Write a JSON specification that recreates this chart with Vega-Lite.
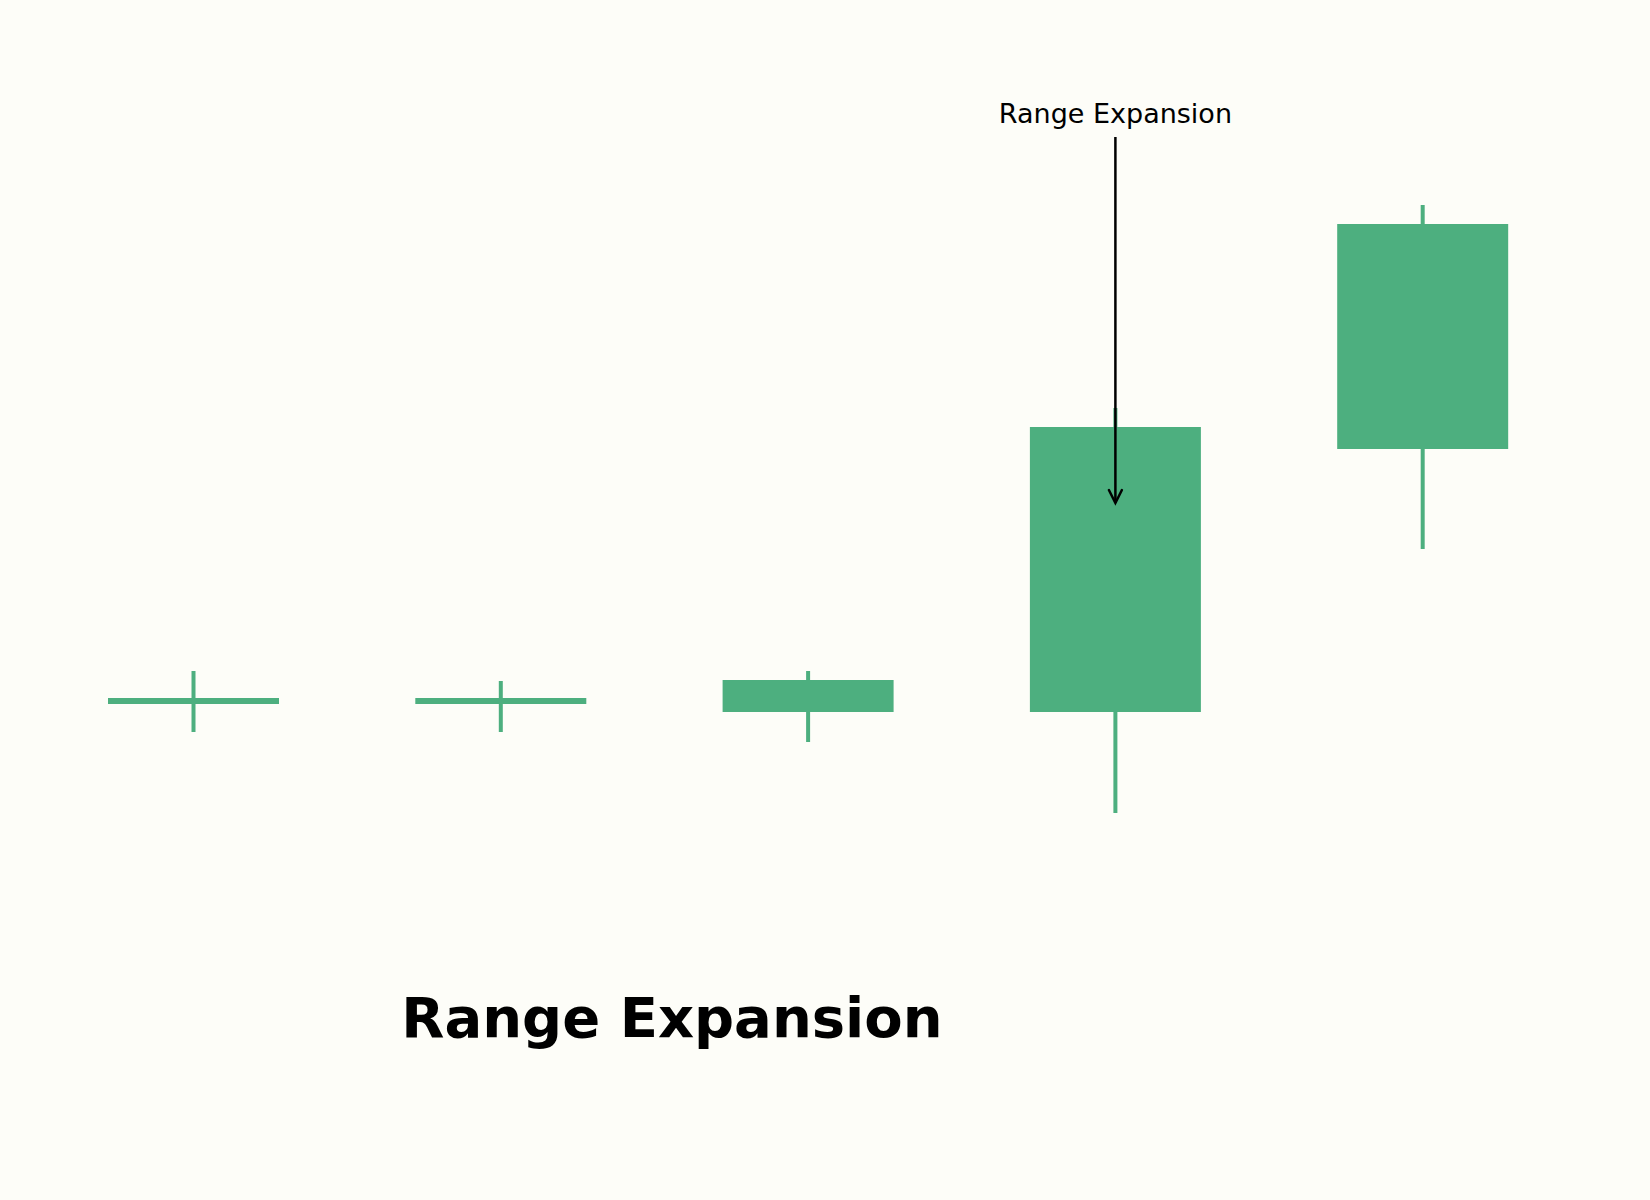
{
  "$schema": "https://vega.github.io/schema/vega-lite/v6.json",
  "width": 1650,
  "height": 1200,
  "autosize": {"type": "none"},
  "padding": 0,
  "background": "#fdfdf8",
  "config": {"view": {"stroke": null}, "font": "DejaVu Sans", "scale": {"continuousPadding": 0}},
  "datasets": {
    "candles": [
      {"idx": 0, "open": 59.6, "close": 60.2, "high": 62.9, "low": 56.8},
      {"idx": 1, "open": 59.6, "close": 60.2, "high": 61.9, "low": 56.8},
      {"idx": 2, "open": 58.8, "close": 62.0, "high": 62.9, "low": 55.8},
      {"idx": 3, "open": 58.8, "close": 87.3, "high": 89.2, "low": 48.7},
      {"idx": 4, "open": 85.1, "close": 107.6, "high": 109.5, "low": 75.1}
    ],
    "annotation": [
      {"idx": 3, "label": "Range Expansion", "label_y": 117.7, "top": 116.3, "tip": 79.7}
    ],
    "title": [
      {"idx": 1.557, "y": 26.3, "label": "Range Expansion"}
    ]
  },
  "layer": [
    {
      "data": {"name": "candles"},
      "mark": {"type": "rule", "color": "#4daf7f", "strokeWidth": 4},
      "encoding": {
        "x": {"field": "idx", "type": "quantitative", "axis": null, "scale": {"domain": [-0.6297, 4.7397], "nice": false, "zero": false, "padding": 0}},
        "y": {"field": "low", "type": "quantitative", "axis": null, "scale": {"domain": [10, 130], "nice": false, "zero": false, "padding": 0}},
        "y2": {"field": "high"}
      }
    },
    {
      "data": {"name": "candles"},
      "mark": {"type": "bar", "color": "#4daf7f", "size": 171, "orient": "vertical"},
      "encoding": {
        "x": {"field": "idx", "type": "quantitative", "axis": null, "scale": {"domain": [-0.6297, 4.7397], "nice": false, "zero": false, "padding": 0}},
        "y": {"field": "open", "type": "quantitative", "axis": null, "scale": {"domain": [10, 130], "nice": false, "zero": false, "padding": 0}},
        "y2": {"field": "close"}
      }
    },
    {
      "data": {"name": "annotation"},
      "mark": {"type": "rule", "color": "#000000", "strokeWidth": 2.5},
      "encoding": {
        "x": {"field": "idx", "type": "quantitative", "axis": null, "scale": {"domain": [-0.6297, 4.7397], "nice": false, "zero": false, "padding": 0}},
        "y": {"field": "top", "type": "quantitative", "axis": null, "scale": {"domain": [10, 130], "nice": false, "zero": false, "padding": 0}},
        "y2": {"field": "tip"}
      }
    },
    {
      "data": {"name": "annotation"},
      "mark": {"type": "point", "shape": "M-0.5,-1L0,0L0.5,-1", "filled": false, "stroke": "#000000", "strokeWidth": 2.5, "size": 676, "opacity": 1, "strokeCap": "round", "strokeJoin": "miter"},
      "encoding": {
        "x": {"field": "idx", "type": "quantitative", "axis": null, "scale": {"domain": [-0.6297, 4.7397], "nice": false, "zero": false, "padding": 0}},
        "y": {"field": "tip", "type": "quantitative", "axis": null, "scale": {"domain": [10, 130], "nice": false, "zero": false, "padding": 0}}
      }
    },
    {
      "data": {"name": "annotation"},
      "mark": {"type": "text", "fontSize": 27, "font": "DejaVu Sans", "color": "#000000", "align": "center", "baseline": "alphabetic"},
      "encoding": {
        "x": {"field": "idx", "type": "quantitative", "axis": null, "scale": {"domain": [-0.6297, 4.7397], "nice": false, "zero": false, "padding": 0}},
        "y": {"field": "label_y", "type": "quantitative", "axis": null, "scale": {"domain": [10, 130], "nice": false, "zero": false, "padding": 0}},
        "text": {"field": "label"}
      }
    },
    {
      "data": {"name": "title"},
      "mark": {"type": "text", "fontSize": 56, "fontWeight": "bold", "font": "DejaVu Sans", "color": "#000000", "align": "center", "baseline": "alphabetic"},
      "encoding": {
        "x": {"field": "idx", "type": "quantitative", "axis": null, "scale": {"domain": [-0.6297, 4.7397], "nice": false, "zero": false, "padding": 0}},
        "y": {"field": "y", "type": "quantitative", "axis": null, "scale": {"domain": [10, 130], "nice": false, "zero": false, "padding": 0}},
        "text": {"field": "label"}
      }
    }
  ]
}
